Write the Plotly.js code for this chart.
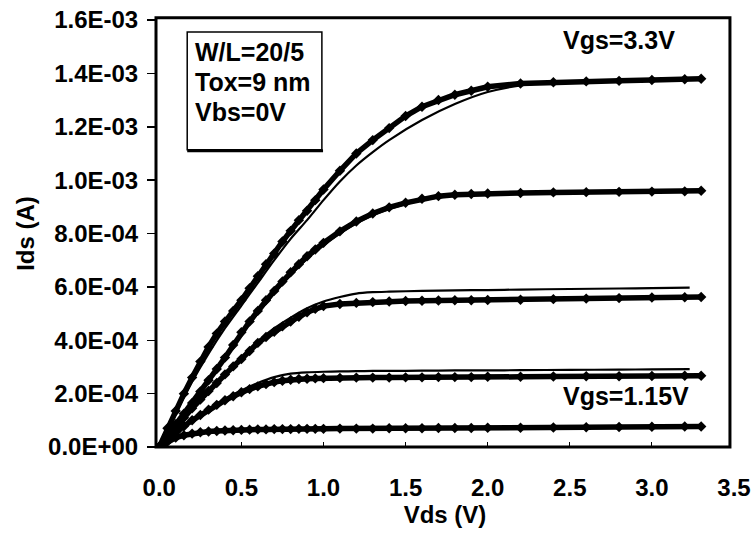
<!DOCTYPE html>
<html>
<head>
<meta charset="utf-8">
<script src="https://cdn.plot.ly/plotly-3.0.1.min.js"></script>
<style>html,body{margin:0;padding:0;background:#fff}#chart{width:753px;height:533px}</style>
</head>
<body>
<div id="chart"></div>
<script>
// Vds (V) for measured points
const vdsMeas = [0,0.05,0.1,0.15,0.2,0.25,0.3,0.35,0.4,0.45,0.5,0.55,0.6,0.65,0.7,0.75,0.8,0.85,0.9,0.95,1.0,
  1.1,1.2,1.3,1.4,1.5,1.6,1.7,1.8,1.9,2.0,2.2,2.4,2.6,2.8,3.0,3.2,3.3];
// measured Ids, units of 1e-4 A
const meas1 = [0,0.7,1.35,2.0,2.6,3.2,3.75,4.25,4.7,5.1,5.5,5.95,6.4,6.85,7.25,7.7,8.1,8.5,8.85,9.25,9.65,
  10.35,11.0,11.5,11.95,12.4,12.75,13.0,13.2,13.35,13.5,13.62,13.67,13.7,13.72,13.75,13.78,13.8];
const meas2 = [0,0.45,0.85,1.25,1.65,2.08,2.5,2.92,3.35,3.82,4.3,4.7,5.1,5.5,5.85,6.2,6.55,6.85,7.15,7.4,7.65,
  8.08,8.45,8.75,8.98,9.15,9.3,9.4,9.45,9.48,9.5,9.52,9.54,9.55,9.56,9.57,9.58,9.6];
const meas3 = [0,0.38,0.75,1.1,1.45,1.78,2.1,2.4,2.72,3.02,3.3,3.6,3.9,4.12,4.32,4.52,4.7,4.88,5.05,5.18,5.28,
  5.36,5.4,5.43,5.45,5.47,5.48,5.49,5.5,5.5,5.51,5.52,5.54,5.56,5.58,5.6,5.61,5.62];
const meas4 = [0,0.28,0.55,0.78,1.0,1.2,1.4,1.58,1.75,1.9,2.05,2.17,2.27,2.36,2.43,2.48,2.52,2.55,2.56,2.57,2.58,
  2.59,2.6,2.6,2.6,2.61,2.61,2.62,2.62,2.62,2.63,2.63,2.64,2.65,2.65,2.66,2.67,2.67];
const meas5 = [0,0.2,0.35,0.44,0.5,0.55,0.58,0.6,0.62,0.63,0.64,0.65,0.66,0.66,0.67,0.67,0.67,0.68,0.68,0.68,0.68,
  0.69,0.69,0.69,0.7,0.7,0.7,0.71,0.71,0.71,0.72,0.72,0.73,0.74,0.75,0.76,0.77,0.77];

// Vds (V) for model curves
const vdsModel = [0,0.1,0.2,0.3,0.4,0.5,0.6,0.7,0.8,0.9,1.0,1.1,1.2,1.3,1.4,1.6,1.8,2.0,2.2,2.5,2.8,3.0,3.23];
const model1 = [0,1.25,2.45,3.5,4.45,5.3,6.15,7.0,7.8,8.5,9.25,9.95,10.55,11.05,11.5,12.25,12.85,13.3,13.55,13.68,13.72,13.74,13.76];
const model2 = [0,0.83,1.62,2.45,3.3,4.2,5.0,5.75,6.45,7.05,7.55,8.0,8.38,8.68,8.92,9.25,9.42,9.48,9.52,9.54,9.56,9.57,9.58];
const model3 = [0,0.75,1.45,2.1,2.75,3.35,3.95,4.45,4.85,5.2,5.45,5.62,5.75,5.8,5.82,5.85,5.87,5.88,5.9,5.92,5.94,5.95,5.97];
const model4 = [0,0.55,1.0,1.42,1.8,2.12,2.4,2.62,2.75,2.8,2.82,2.83,2.84,2.85,2.85,2.86,2.87,2.87,2.88,2.89,2.9,2.91,2.92];
const model5 = [0,0.36,0.51,0.58,0.62,0.65,0.66,0.67,0.67,0.68,0.68,0.68,0.69,0.69,0.7,0.7,0.71,0.72,0.72,0.73,0.75,0.76,0.77];

const yTickVals = [0,2e-4,4e-4,6e-4,8e-4,1.0e-3,1.2e-3,1.4e-3,1.6e-3];
const yTickText = ['0.0E+00','2.0E-04','4.0E-04','6.0E-04','8.0E-04','1.0E-03','1.2E-03','1.4E-03','1.6E-03'];
const xTickVals = [0,0.5,1.0,1.5,2.0,2.5,3.0,3.5];
const xTickText = ['0.0','0.5','1.0','1.5','2.0','2.5','3.0','3.5'];

const infoLines = ['W/L=20/5','Tox=9 nm','Vbs=0V'];
const labelTop = 'Vgs=3.3V';
const labelBottom = 'Vgs=1.15V';

const scale = v => v.map(a => a * 1e-4);
const traces = [];
[model1, model2, model3, model4, model5].forEach(m => {
  traces.push({x: vdsModel, y: scale(m), type: 'scatter', mode: 'lines',
    line: {color: '#000', width: 2.2, shape: 'spline', smoothing: 0.6}, hoverinfo: 'skip'});
});
[meas1, meas2, meas3, meas4, meas5].forEach(m => {
  traces.push({x: vdsMeas, y: scale(m), type: 'scatter', mode: 'lines+markers',
    line: {color: '#000', width: 5.5},
    marker: {symbol: 'diamond', size: 8, color: '#000'}, hoverinfo: 'skip'});
});

const font = {family: 'Liberation Sans, Arial, sans-serif', size: 24, color: '#000', weight: 'bold'};
const textFont = {family: 'Liberation Sans, Arial, sans-serif', size: 25, color: '#000', weight: 'bold'};

const annotations = infoLines.map((t, i) => ({
  text: t, xref: 'paper', yref: 'paper', x: 0.064, y: [0.925, 0.855, 0.785][i],
  xanchor: 'left', yanchor: 'middle', showarrow: false, font: textFont
}));
annotations.push({text: labelTop, xref: 'paper', yref: 'paper', x: 0.70, y: 0.953,
  xanchor: 'left', yanchor: 'middle', showarrow: false, font: textFont});
annotations.push({text: labelBottom, xref: 'paper', yref: 'paper', x: 0.70, y: 0.119,
  xanchor: 'left', yanchor: 'middle', showarrow: false, font: textFont});

const layout = {
  width: 753, height: 533,
  margin: {l: 156, r: 19, t: 20, b: 86},
  paper_bgcolor: '#fff', plot_bgcolor: '#fff',
  showlegend: false,
  font: font,
  xaxis: {
    range: [-0.02, 3.5], tickvals: xTickVals, ticktext: xTickText,
    ticks: 'inside', ticklen: 5, tickwidth: 1, tickcolor: '#000',
    showgrid: false, zeroline: false, showline: false,
    tickfont: font, ticklabelstandoff: 24, ticklabeloverflow: 'allow',
    title: {text: 'Vds (V)', font: font, standoff: 4}
  },
  yaxis: {
    range: [0, 1.6e-3], tickvals: yTickVals, ticktext: yTickText,
    ticks: 'outside', ticklen: 8, tickwidth: 1.5, tickcolor: '#000',
    showgrid: false, zeroline: false, showline: false,
    tickfont: font, ticklabelstandoff: 4, ticklabeloverflow: 'allow',
    title: {text: 'Ids (A)', font: font, standoff: 6}
  },
  shapes: [
    {type: 'rect', xref: 'paper', yref: 'paper', x0: 0, x1: 0.993, y0: 0, y1: 1.005,
      line: {color: '#000', width: 3}},
    {type: 'rect', xref: 'paper', yref: 'paper', x0: 0.054, x1: 0.287, y0: 0.696, y1: 0.972,
      line: {color: '#000', width: 1.5}},
    {type: 'line', xref: 'paper', yref: 'paper', x0: 0.054, x1: 0.289, y0: 0.694, y1: 0.694,
      line: {color: '#000', width: 3}}
  ],
  annotations: annotations
};

Plotly.newPlot('chart', traces, layout, {staticPlot: true, displayModeBar: false});
</script>
</body>
</html>
